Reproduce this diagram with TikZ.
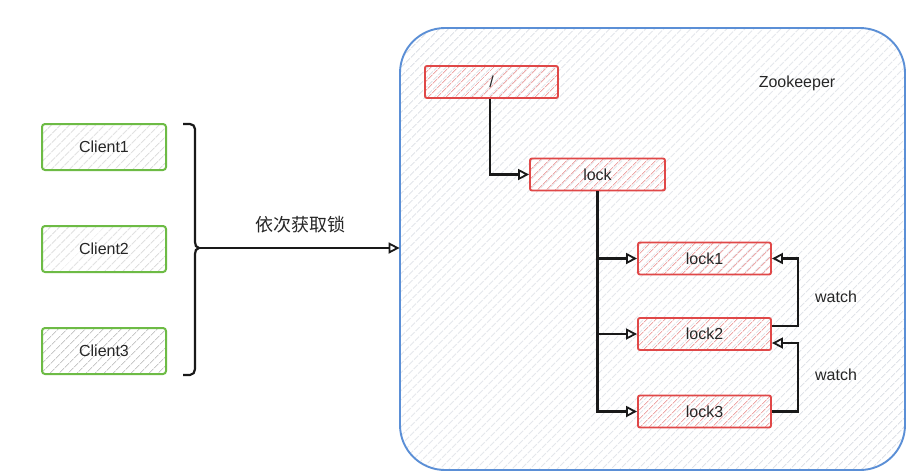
\documentclass[tikz,border=0pt]{standalone}
\usepackage{fontspec}
\setmainfont{Liberation Sans}
\newfontfamily\cjk{Noto Sans CJK SC}
\usetikzlibrary{arrows.meta,patterns.meta,calc}
\definecolor{cgreen}{HTML}{6DBB45}
\definecolor{cred}{HTML}{E04848}
\definecolor{cblue}{HTML}{5B8FD6}
\definecolor{hgray}{HTML}{C8C8C8}
\definecolor{hred}{HTML}{EDA8A8}
\definecolor{hblue}{HTML}{CDD2DB}
\tikzset{
  clientbox/.style={draw=cgreen,line width=2pt,rounded corners=3pt,minimum width=124pt,minimum height=46pt,
    pattern={Lines[angle=45,distance=6.5pt,line width=0.8pt]},pattern color=hgray,font=\fontsize{16}{18}\selectfont,text=black!85},
  zbox/.style={draw=cred,line width=1.9pt,rounded corners=2pt,minimum width=133pt,minimum height=32pt,
    pattern={Lines[angle=45,distance=6.5pt,line width=0.8pt]},pattern color=hred,font=\fontsize{16}{18}\selectfont,text=black!85},
  zkbox/.style={draw=cblue,line width=1.9pt,rounded corners=45pt,minimum width=505pt,minimum height=442pt,
    pattern={Lines[angle=45,distance=6.5pt,line width=0.8pt]},pattern color=hblue},
  arr/.style={line width=2.2pt,black!90,-{Triangle[open,length=11pt,width=11pt,line width=1.8pt]}},
  lbl/.style={font=\fontsize{16}{18}\selectfont,text=black!85}
}
\begin{document}
\begin{tikzpicture}[x=1pt,y=-1pt]
\useasboundingbox (0,0) rectangle (922,475);
\fill[white] (0,0) rectangle (922,475);
% container
\node[zkbox] (zk) at (652.5,249) {};
\node[lbl] (zklbl) at (797,83) {Zookeeper};
% clients
\node[clientbox] (c1) at (104,147) {Client1};
\node[clientbox] (c2) at (104,249) {Client2};
\node[clientbox] (c3) at (104,351) {Client3};
% brace
\coordinate (btop) at (183,124);
\coordinate (bbot) at (183,375);
\coordinate (btip) at (199,248);
\draw[line width=2.2pt,black!90] (btop) -- (190,124) to[out=0,in=90] (195,129) -- (195,242)
  to[out=-90,in=180] (btip) to[out=180,in=90] (195,254) -- (195,369) to[out=-90,in=0] (190,375) -- (bbot);
\draw[arr] (btip) -- (zk.west |- btip);
\node[lbl,font=\fontsize{18}{20}\cjk] (get) at (300,225) {依次获取锁};
% znodes
\node[zbox] (root) at (491.5,82) {/};
\node[zbox,minimum width=135pt] (lock) at (597.5,174.5) {lock};
\node[zbox] (l1) at (704.5,258.5) {lock1};
\node[zbox] (l2) at (704.5,334) {lock2};
\node[zbox] (l3) at (704.5,411.5) {lock3};
\draw[arr] ([xshift=-1.5pt]root.south) |- (lock.west);
\draw[arr] (lock.south) |- (l1.west);
\draw[arr] (lock.south) |- (l2.west);
\draw[arr] (lock.south) |- (l3.west);
% watch
\coordinate (wx) at (798,0);
\coordinate (l2out) at ([yshift=8pt]l2.east);
\coordinate (l2in) at ([yshift=-9pt]l2.east);
\draw[arr] (l2out) -| (wx |- l1.east) -- (l1.east);
\draw[arr] (l3.east) -| (wx |- l2in) -- (l2in);
\node[lbl] (w1) at (836,297) {watch};
\node[lbl] (w2) at (836,375) {watch};
\end{tikzpicture}
\end{document}
